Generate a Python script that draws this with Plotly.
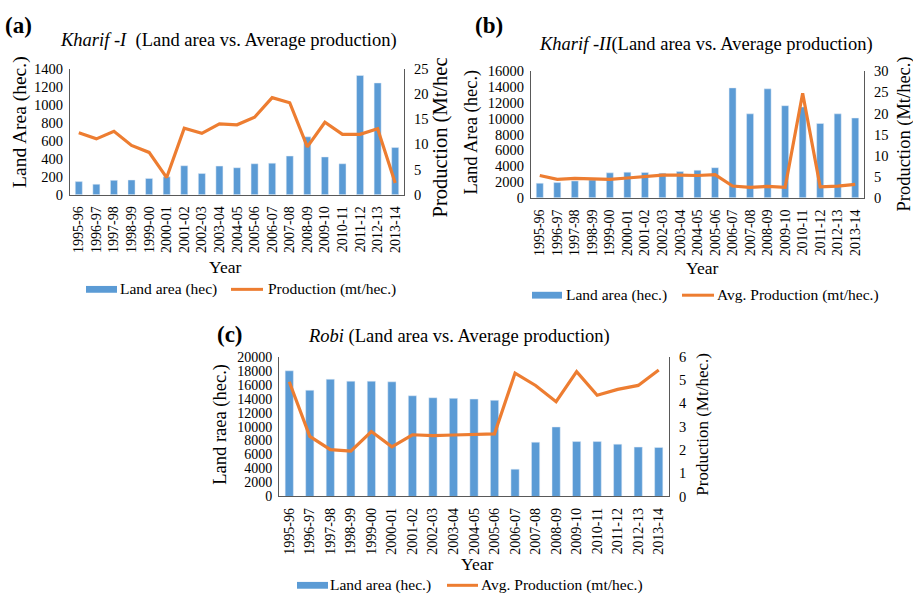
import plotly.graph_objects as go

years = ["1995-96", "1996-97", "1997-98", "1998-99", "1999-00", "2000-01", "2001-02",
         "2002-03", "2003-04", "2004-05", "2005-06", "2006-07", "2007-08", "2008-09",
         "2009-10", "2010-11", "2011-12", "2012-13", "2013-14"]

# (a) Kharif-I
k1_area = [145, 116, 159, 163, 181, 199, 322, 235, 318, 300, 344, 351, 430, 644, 420, 344, 1328, 1245, 525]
k1_prod = [12.3, 11.1, 12.6, 9.8, 8.4, 3.4, 13.2, 12.2, 14.1, 13.9, 15.4, 19.3, 18.3, 9.5, 14.4, 12.0, 12.0, 13.1, 2.3]

# (b) Kharif-II
k2_area = [1850, 1930, 2130, 2250, 3160, 3240, 3200, 3120, 3320, 3490, 3810, 13900, 10620, 13780, 11650, 11490, 9400, 10620, 10090]
k2_prod = [5.3, 4.4, 4.6, 4.5, 4.4, 4.7, 5.0, 5.4, 5.4, 5.3, 5.5, 2.8, 2.5, 2.7, 2.5, 24.8, 2.6, 2.8, 3.2]

# (c) Robi
rb_area = [18000, 15210, 16790, 16510, 16510, 16420, 14420, 14140, 14050, 13950, 13770, 3910, 7770, 9950, 7860, 7860, 7490, 7070, 7020]
rb_prod = [4.93, 2.58, 2.01, 1.95, 2.79, 2.13, 2.65, 2.61, 2.64, 2.65, 2.69, 5.30, 4.77, 4.07, 5.36, 4.35, 4.60, 4.77, 5.43]

W, H = 913, 605
BLUE = "#5B9BD5"
ORANGE = "#ED7D31"
FONT = "Liberation Serif"
AXC = "#595959"


def px(x):
    return x / W


def py(y):
    return 1 - y / H


fig = go.Figure()

panels = [
    ("x", "y", "y2", k1_area, k1_prod),
    ("x2", "y3", "y4", k2_area, k2_prod),
    ("x3", "y5", "y6", rb_area, rb_prod),
]
for xa, ya, yb, area, prod in panels:
    fig.add_trace(go.Bar(x=years, y=area, xaxis=xa, yaxis=ya, marker_color=BLUE,
                         width=0.4, showlegend=False))
    fig.add_trace(go.Scatter(x=years, y=prod, xaxis=xa, yaxis=yb, mode="lines",
                             line=dict(color=ORANGE, width=3.2), showlegend=False))

xcommon = dict(type="category", range=[-0.5, 18.5], showline=True, linecolor=AXC, linewidth=1,
               tickangle=-90, tickfont=dict(family=FONT, size=14, color="black"),
               ticks="", showgrid=False, zeroline=False, ticklabelstandoff=5, fixedrange=True)
ycommon = dict(showline=True, linecolor=AXC, linewidth=1, ticks="", showgrid=False, zeroline=False,
               tickformat="d", tickfont=dict(family=FONT, size=14.5, color="black"),
               fixedrange=True)
yleft = dict(ycommon, ticklabelstandoff=3)
yright = dict(ycommon, ticklabelstandoff=6)

# Panel geometry in pixels
ga = dict(x0=70, x1=404, y0=62.7, y1=191.7)
gb = dict(x0=531, x1=864, y0=65, y1=195)
gc = dict(x0=279, x1=669, y0=358.3, y1=501.7)

fig.update_layout(
    width=W, height=H, margin=dict(l=0, r=0, t=0, b=0),
    paper_bgcolor="white", plot_bgcolor="white",
    font=dict(family=FONT, color="black"),
    xaxis=dict(xcommon, domain=[px(ga["x0"]), px(ga["x1"])], anchor="y"),
    yaxis=dict(yleft, domain=[py(ga["y1"]), py(ga["y0"])], anchor="x", range=[0, 1400], dtick=200),
    yaxis2=dict(yright, overlaying="y", side="right", anchor="x", range=[0, 25], dtick=5),
    xaxis2=dict(xcommon, domain=[px(gb["x0"]), px(gb["x1"])], anchor="y3"),
    yaxis3=dict(yleft, domain=[py(gb["y1"]), py(gb["y0"])], anchor="x2", range=[0, 16000], dtick=2000),
    yaxis4=dict(yright, overlaying="y3", side="right", anchor="x2", range=[0, 30], dtick=5),
    xaxis3=dict(xcommon, domain=[px(gc["x0"]), px(gc["x1"])], anchor="y5"),
    yaxis5=dict(yleft, domain=[py(gc["y1"]), py(gc["y0"])], anchor="x3", range=[0, 20000], dtick=2000,
                tickfont=dict(family=FONT, size=14, color="black")),
    yaxis6=dict(yright, overlaying="y5", side="right", anchor="x3", range=[0, 6], dtick=1),
)

annotations = []
shapes = []


def text(x, y, s, size, angle=0, xanchor="center", bold=False):
    annotations.append(dict(
        x=px(x), y=py(y), xref="paper", yref="paper", text=("<b>%s</b>" % s) if bold else s,
        showarrow=False, xanchor=xanchor, yanchor="middle", textangle=angle, borderpad=0,
        font=dict(family=FONT, size=size, color="black")))


# Panel letters and titles
text(4, 18, "(a)", 23, xanchor="left", bold=True)
text(228, 33, "<i>Kharif -I</i>  (Land area vs. Average production)", 18.5)
text(474, 18, "(b)", 23, xanchor="left", bold=True)
text(706, 38, "<i>Kharif -II</i>(Land area vs. Average production)", 18.5)
text(216, 335, "(c)", 23, xanchor="left", bold=True)
text(459, 337, "<i>Robi</i> (Land area vs. Average production)", 18.5)

# Axis titles
text(20, 117, "Land Area (hec.)", 19.5, angle=-90)
text(440, 133, "Production (Mt/hec", 20.5, angle=-90)
text(225, 266.5, "Year", 17.5)

text(472, 128, "Land Area (hec.)", 18.5, angle=-90)
text(905, 130, "Production (Mt/hec.)", 18.5, angle=-90)
text(702, 267.5, "Year", 17.5)

text(221, 428, "Land raea (hec.)", 18.5, angle=-90)
text(703, 428, "Production (Mt/hec.)", 17, angle=-90)
text(477, 571, "Year", 17.5)


# Legends
def legend(rx0, rx1, ry, t1x, label1, lx0, lx1, t2x, label2):
    shapes.append(dict(type="rect", xref="paper", yref="paper", x0=px(rx0), x1=px(rx1),
                       y0=py(ry + 3.5), y1=py(ry - 3.5), fillcolor=BLUE, line=dict(width=0)))
    shapes.append(dict(type="line", xref="paper", yref="paper", x0=px(lx0), x1=px(lx1),
                       y0=py(ry), y1=py(ry), line=dict(color=ORANGE, width=3)))
    text(t1x, ry, label1, 15.5, xanchor="left")
    text(t2x, ry, label2, 15.5, xanchor="left")


legend(86, 117, 289, 119, "Land area (hec)", 231, 263, 267, "Production (mt/hec.)")
legend(532, 562, 295, 565, "Land area (hec.)", 682, 714, 716, "Avg. Production (mt/hec.)")
legend(297, 328, 593, 329, "Land area (hec.)", 447, 478, 480, "Avg. Production (mt/hec.)")

fig.update_layout(annotations=annotations, shapes=shapes)

fig.write_html("out.html", config={"displayModeBar": False},
               post_script="document.body.style.margin='0';document.body.style.overflow='hidden';")
